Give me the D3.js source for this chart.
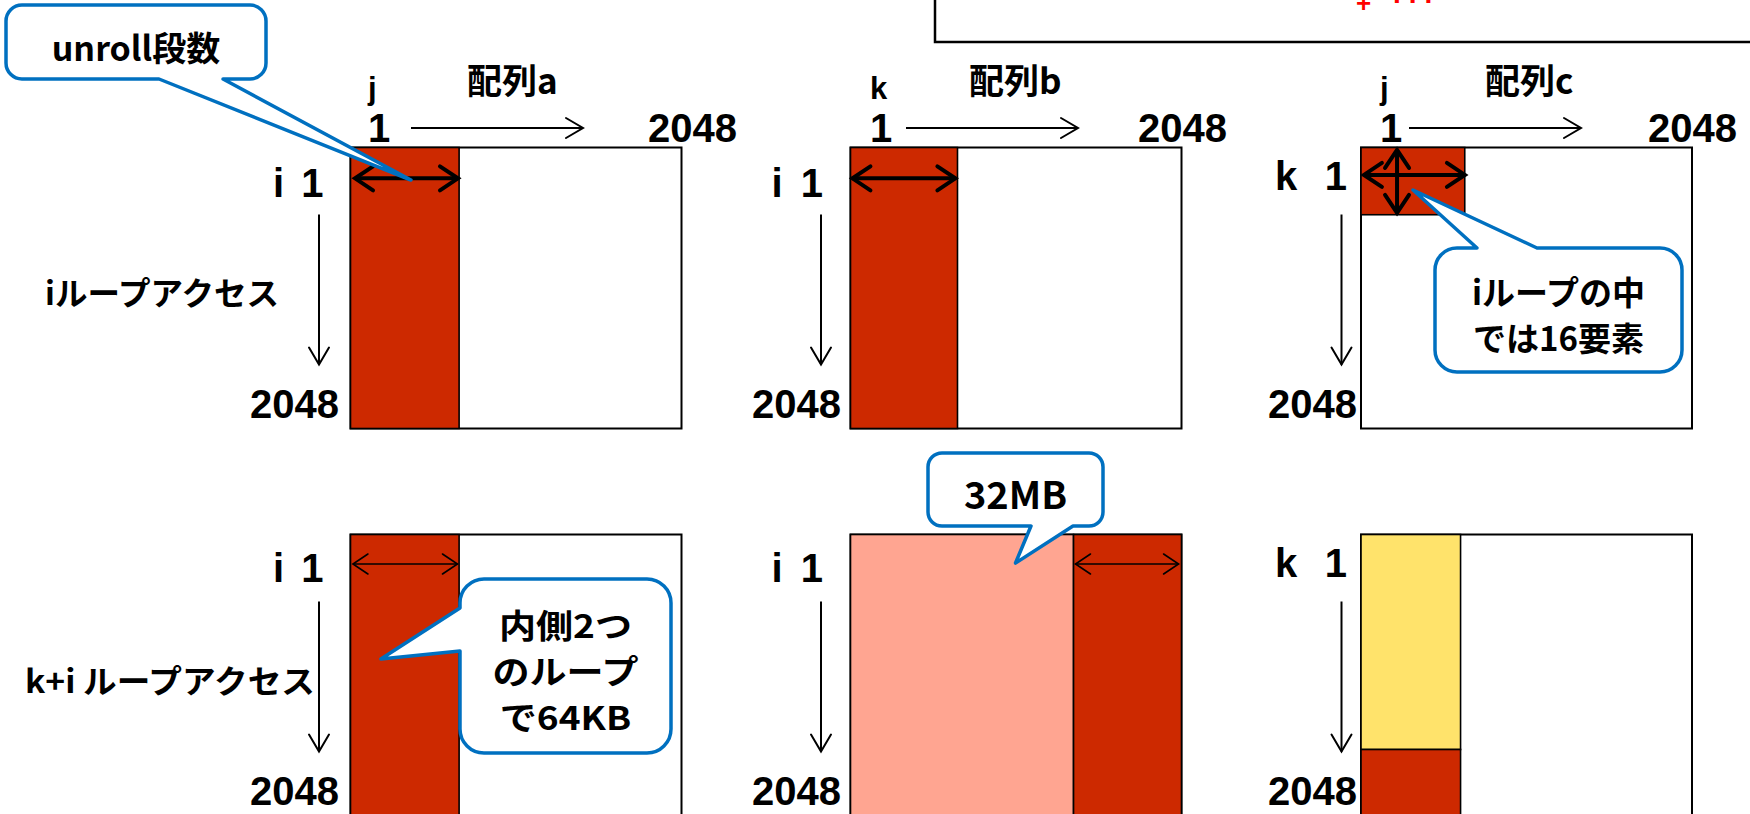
<!DOCTYPE html>
<html><head><meta charset="utf-8">
<script src="https://cdn.jsdelivr.net/npm/d3@7"></script>
<style>html,body{margin:0;padding:0;background:#fff;overflow:hidden}</style>
</head><body><div id="chart"></div>
<script>
// ---------------- data ----------------
const matrixSize = 2048;
const arrayNames = ["配列a", "配列b", "配列c"];
const colVars = ["j", "k", "j"];
const rowVars = [["i", "i", "k"], ["i", "i", "k"]];
const tickLabels = ["1", "2048"];
const rowTitles = ["iループアクセス", "k+i ループアクセス"];
// accessed regions: [row, panel, kind, colStart, colEnd, rowStart, rowEnd] (matrix index units)
const regions = [
  [0, 0, "hot", 0, 672, 0, 2048],
  [0, 1, "hot", 0, 662, 0, 2048],
  [0, 2, "hot", 0, 642, 0, 490],
  [1, 0, "hot", 0, 672, 0, 2048],
  [1, 1, "warm", 0, 1380, 0, 2048],
  [1, 1, "hot", 1380, 2048, 0, 2048],
  [1, 2, "reuse", 0, 616, 0, 1567],
  [1, 2, "hot", 0, 616, 1567, 2048]
];
// span arrows: [row, panel, orientation, fixedIndex, from, to, heavy]
const spans = [
  [0, 0, "h", 225, 28, 665, true],
  [0, 1, "h", 225, 12, 649, true],
  [0, 2, "h", 200, 18, 643, true],
  [0, 2, "v", 223, 18, 477, true],
  [1, 0, "h", 215, 15, 662, false],
  [1, 1, "h", 215, 1392, 2030, false]
];
// callouts: texts and the matrix cell they point at [row, panel, col, rowIdx]
const calloutTexts = [["unroll段数"], ["iループの中", "では16要素"], ["内側2つ", "のループ", "で64KB"], ["32MB"]];
const calloutTargets = [[0, 0, 374, 237], [0, 2, 322, 310], [1, 0, 188, 907], [1, 1, 1021, 208]];
const noteText = ["+", "..."];

// ---------------- layout ----------------
const W = 1750, H = 814;
const L = {
  panelLeft: [350.5, 850.5, 1361], panelW: 331,
  rowTop: [147.5, 534.5], panelH: 281,
  colVarDx: [17.5, 19.5, 19], nameDx: [116.5, 118.5, 124],
  arrowDx: [[60.5, 232.5], [55.5, 227.5], [48, 220]], endDx: [297.5, 287.5, 287],
  rowVarDx: [-77.5, -79, -86], rowOneDx: [-27, -27.5, -14],
  vArrowDx: [-31.5, -29.5, -19.5], bottomDx: [-11.5, -9.5, -4],
  callouts: [
    {x: 6, y: 5, w: 260, h: 74, r: 16, side: "bottom", b0: 159, b1: 223},
    {x: 1435, y: 248, w: 247, h: 124, r: 22, side: "top", b0: 1477, b1: 1537},
    {x: 460, y: 579, w: 211, h: 174, r: 24, side: "left", b0: 608, b1: 651},
    {x: 928, y: 453, w: 175, h: 73, r: 14, side: "bottom", b0: 1031, b1: 1073}
  ],
  calloutFirstY: [46, 291, 624, 492], calloutStep: [0, 46, 46, 0],
  calloutFont: [34, 33, 32.5, 38],
  calloutScaleX: [1, 1, 1.14, 1]
};
const fills = {hot: "#CD2900", warm: "#FFA591", reuse: "#FFE36B"};
const blue = "#0070C0";
const cjk = '"Noto Sans CJK JP", "Noto Sans", sans-serif';
const latin = '"Liberation Sans", Arial, sans-serif';

const svg = d3.select("#chart").append("svg")
  .attr("width", W).attr("height", H)
  .style("font-family", cjk)
  .style("font-weight", "bold");
svg.append("rect").attr("width", W).attr("height", H).attr("fill", "#fff");

const xs = p => d3.scaleLinear().domain([0, matrixSize]).range([L.panelLeft[p], L.panelLeft[p] + L.panelW]);
const ys = r => d3.scaleLinear().domain([0, matrixSize]).range([L.rowTop[r], L.rowTop[r] + L.panelH]);

function arrow(g, x1, y1, x2, y2, o) {
  const sw = o.sw, len = o.len, hw = o.hw;
  g.append("line").attr("x1", x1).attr("y1", y1).attr("x2", x2).attr("y2", y2)
    .attr("stroke", "#000").attr("stroke-width", sw);
  const head = (px, py, qx, qy) => {
    const dx = px - qx, dy = py - qy, d = Math.hypot(dx, dy), ux = dx / d, uy = dy / d;
    const nx = -uy, ny = ux;
    const a = [px - ux * len + nx * hw, py - uy * len + ny * hw];
    const b = [px - ux * len - nx * hw, py - uy * len - ny * hw];
    g.append("path").attr("d", `M${a[0]},${a[1]}L${px},${py}L${b[0]},${b[1]}`)
      .attr("fill", "none").attr("stroke", "#000").attr("stroke-width", sw)
      .attr("stroke-linejoin", "miter").attr("stroke-linecap", "round");
  };
  head(x2, y2, x1, y1);
  if (o.both) head(x1, y1, x2, y2);
}
function latinText(g, x, y, t, size, anchor) {
  return g.append("text").attr("x", x).attr("y", y).attr("text-anchor", anchor || "start")
    .style("font-family", latin).style("font-size", size + "px").style("font-weight", "bold").text(t);
}

// top-right note box (mostly off canvas)
svg.append("rect").attr("x", 935).attr("y", -30).attr("width", 900).attr("height", 72)
  .attr("fill", "#fff").attr("stroke", "#000").attr("stroke-width", 2.5);
latinText(svg, 1356, 12, noteText[0], 26).attr("fill", "#FF0000");
latinText(svg, 1393, 3, noteText[1], 28).attr("fill", "#FF0000").style("letter-spacing", "8px");

// row titles
const titleY = [305, 693], titleX = [45, 25], titleLen = [234, 290];
rowTitles.forEach((t, r) => svg.append("text").attr("x", titleX[r]).attr("y", titleY[r])
  .attr("textLength", titleLen[r]).attr("lengthAdjust", "spacingAndGlyphs")
  .style("font-size", "32px").text(t));

// matrices
[0, 1].forEach(r => {
  const y = ys(r);
  [0, 1, 2].forEach(p => {
    const x = xs(p), g = svg.append("g");
    g.append("rect").attr("x", x(0)).attr("y", y(0)).attr("width", x(matrixSize) - x(0))
      .attr("height", y(matrixSize) - y(0)).attr("fill", "#fff").attr("stroke", "#000").attr("stroke-width", 2);
    g.selectAll("rect.blk").data(regions.filter(d => d[0] === r && d[1] === p)).join("rect")
      .attr("class", "blk")
      .attr("x", d => x(d[3])).attr("width", d => x(d[4]) - x(d[3]))
      .attr("y", d => y(d[5])).attr("height", d => y(d[6]) - y(d[5]))
      .attr("fill", d => fills[d[2]]).attr("stroke", "#000").attr("stroke-width", 1.6);

    const left = L.panelLeft[p], top = L.rowTop[r];
    const base = top + (rowVars[r][p] === "k" ? 42.5 : (r === 0 ? 49.5 : 47.5));
    // row labels
    latinText(g, left + L.rowVarDx[p], base, rowVars[r][p], 40);
    latinText(g, left + L.rowOneDx[p], base, tickLabels[0], 40, "end");
    latinText(g, left + L.bottomDx[p], top + 270, tickLabels[1], 40, "end");
    arrow(g, left + L.vArrowDx[p], top + 67, left + L.vArrowDx[p], top + 217, {sw: 2, len: 17, hw: 10});

    if (r === 0) {
      latinText(g, left + L.colVarDx[p], 98.5, colVars[p], 31);
      g.append("text").attr("x", left + L.nameDx[p]).attr("y", 94)
        .style("font-size", "35px").text(arrayNames[p]);
      latinText(g, left + L.colVarDx[p], 142, tickLabels[0], 40);
      latinText(g, left + L.endDx[p], 142, tickLabels[1], 40);
      arrow(g, left + L.arrowDx[p][0], 128, left + L.arrowDx[p][1], 128, {sw: 2, len: 17, hw: 10});
    }
  });
});

// span arrows
spans.forEach(s => {
  const [r, p, o, f, a, b, heavy] = s, x = xs(p), y = ys(r);
  const opt = heavy ? {sw: 4, len: 18, hw: 12, both: true} : {sw: 1.6, len: 15, hw: 10, both: true};
  if (o === "h") arrow(svg, x(a), y(f), x(b), y(f), opt);
  else arrow(svg, x(f), y(a), x(f), y(b), opt);
});

// callouts
function calloutPath(c, tip) {
  const {x, y, w, h, r, side, b0, b1} = c, x2 = x + w, y2 = y + h;
  let d = `M${x + r},${y}`;
  if (side === "top") d += `L${b0},${y}L${tip[0]},${tip[1]}L${b1},${y}`;
  d += `L${x2 - r},${y}A${r},${r} 0 0 1 ${x2},${y + r}`;
  d += `L${x2},${y2 - r}A${r},${r} 0 0 1 ${x2 - r},${y2}`;
  if (side === "bottom") d += `L${b1},${y2}L${tip[0]},${tip[1]}L${b0},${y2}`;
  d += `L${x + r},${y2}A${r},${r} 0 0 1 ${x},${y2 - r}`;
  if (side === "left") d += `L${x},${b1}L${tip[0]},${tip[1]}L${x},${b0}`;
  d += `L${x},${y + r}A${r},${r} 0 0 1 ${x + r},${y}Z`;
  return d;
}
calloutTexts.forEach((lines, i) => {
  const c = L.callouts[i], t = calloutTargets[i];
  const tip = [xs(t[1])(t[2]), ys(t[0])(t[3])];
  svg.append("path").attr("d", calloutPath(c, tip)).attr("fill", "#fff")
    .attr("stroke", blue).attr("stroke-width", 3.5).attr("stroke-linejoin", "round");
  const cx = c.x + c.w / 2, sx = L.calloutScaleX[i];
  const txt = svg.append("text").attr("x", cx).attr("y", L.calloutFirstY[i])
    .attr("text-anchor", "middle").attr("dominant-baseline", "central")
    .attr("transform", `translate(${cx},0) scale(${sx},1) translate(${-cx},0)`)
    .style("font-size", L.calloutFont[i] + "px");
  lines.forEach((ln, k) => txt.append("tspan").attr("x", cx)
    .attr("y", L.calloutFirstY[i] + k * L.calloutStep[i])
    .attr("dominant-baseline", "central").text(ln));
});
</script>
</body></html>
